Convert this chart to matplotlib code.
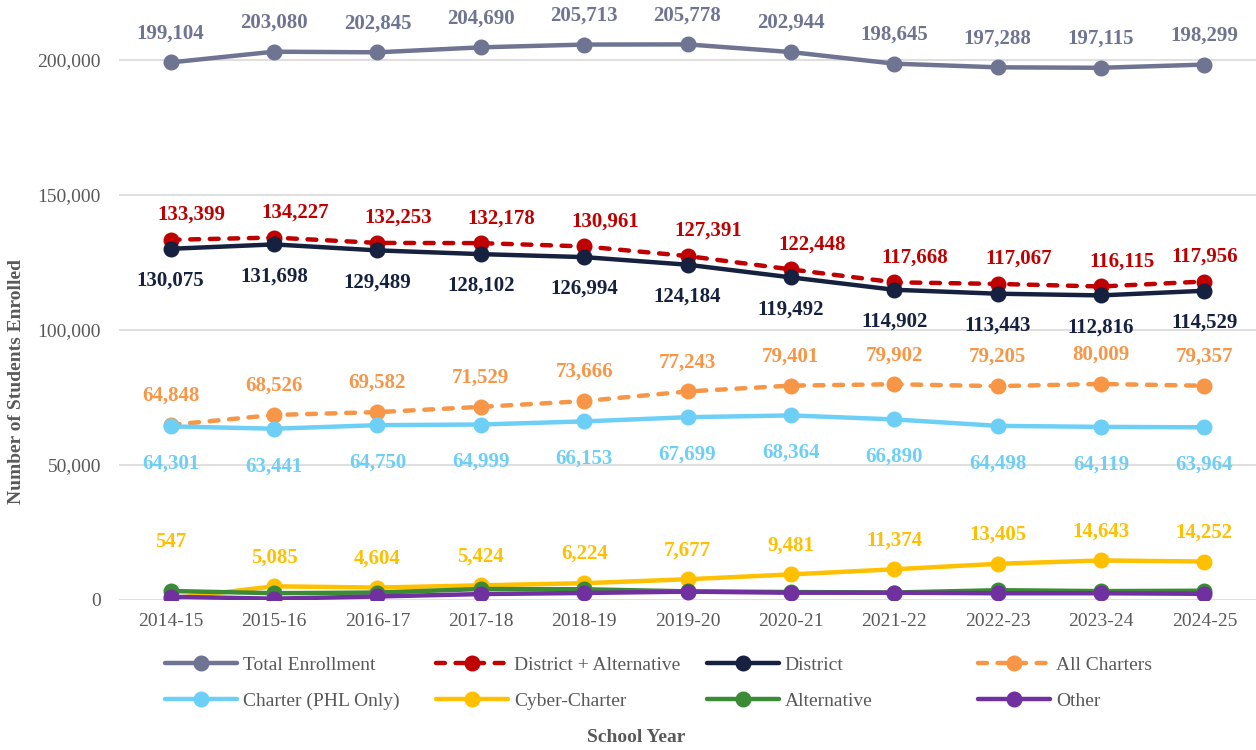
import matplotlib
matplotlib.use("Agg")
import matplotlib.pyplot as plt

years = ["2014-15", "2015-16", "2016-17", "2017-18", "2018-19", "2019-20",
         "2020-21", "2021-22", "2022-23", "2023-24", "2024-25"]

total = [199104, 203080, 202845, 204690, 205713, 205778, 202944, 198645, 197288, 197115, 198299]
district_alt = [133399, 134227, 132253, 132178, 130961, 127391, 122448, 117668, 117067, 116115, 117956]
district = [130075, 131698, 129489, 128102, 126994, 124184, 119492, 114902, 113443, 112816, 114529]
all_charters = [64848, 68526, 69582, 71529, 73666, 77243, 79401, 79902, 79205, 80009, 79357]
charter_phl = [64301, 63441, 64750, 64999, 66153, 67699, 68364, 66890, 64498, 64119, 63964]
cyber = [547, 5085, 4604, 5424, 6224, 7677, 9481, 11374, 13405, 14643, 14252]
alternative = [3324, 2529, 2764, 4076, 3967, 3207, 2956, 2766, 3624, 3299, 3427]
other = [1200, 500, 1300, 2200, 2600, 3100, 2700, 2700, 2500, 2500, 2300]

plt.rcParams['font.family'] = ['Liberation Serif', 'DejaVu Serif']

fig = plt.figure(figsize=(12.56, 7.5), dpi=100)
ax = fig.add_axes([119 / 1256, 150 / 750, 1137 / 1256, 594 / 750])

x = list(range(len(years)))

series = [
    ("Total Enrollment", total, "#6E7491", "-", "above"),
    ("District + Alternative", district_alt, "#C00000", "--", "above_r"),
    ("District", district, "#15213F", "-", "below"),
    ("All Charters", all_charters, "#F79646", "--", "above"),
    ("Charter (PHL Only)", charter_phl, "#6DCFF6", "-", "below_far"),
    ("Cyber-Charter", cyber, "#FFC000", "-", "above"),
    ("Alternative", alternative, "#3A8A36", "-", None),
    ("Other", other, "#7030A0", "-", None),
]

handles = {}
# later series sit on top, as in the original
for k, (name, vals, col, ls, lab) in enumerate(series):
    line, = ax.plot(x, vals, color=col, linewidth=3.2, marker='o', markersize=10.5,
                    label=name, solid_capstyle='round', dash_capstyle='round', zorder=3 + k * 0.1)
    if ls == "--":
        line.set_dashes((2, 2.4))
    handles[name] = line

for name, vals, col, ls, lab in series:
    if lab is None:
        continue
    for i, v in enumerate(vals):
        dx, dy = 0, 21
        if lab == "below":
            dy = -23
        if lab == "below_far":
            dy = -27
        if lab == "above_r":
            dx, dy = (15 if i < len(vals) - 1 else 0), 18
        if name == "Cyber-Charter" and i == 0:
            dy = 41
        ax.annotate(f"{v:,}", (i, v), xytext=(dx, dy), textcoords='offset points',
                    ha='center', va='center', fontsize=15, fontweight='bold', color=col,
                    zorder=10)

ax.set_xlim(-0.5, len(years) - 0.5)
ax.set_ylim(0, 220000)
ax.set_yticks([0, 50000, 100000, 150000, 200000])
ax.set_yticklabels(["0", "50,000", "100,000", "150,000", "200,000"])
ax.set_xticks(x)
ax.set_xticklabels(years)
ax.tick_params(axis='both', length=0, labelsize=14, labelcolor="#595959")
ax.tick_params(axis='y', pad=13)
ax.tick_params(axis='x', pad=9)
ax.grid(axis='y', color="#D9D9D9", linewidth=1.2)
ax.set_axisbelow(True)
for s in ax.spines.values():
    s.set_visible(False)

# legend: 4 columns, 2 rows, placed column by column
legend_cols = [
    (165, ["Total Enrollment", "Charter (PHL Only)"]),
    (436, ["District + Alternative", "Cyber-Charter"]),
    (707, ["District", "Alternative"]),
    (978, ["All Charters", "Other"]),
]
for xpix, names in legend_cols:
    leg = fig.legend([handles[n] for n in names], names, loc='center left',
                     bbox_to_anchor=(xpix / 1256, 1 - 683 / 750), frameon=False,
                     fontsize=14, handlelength=3.7, handletextpad=0.3, labelspacing=0.92,
                     borderpad=0, borderaxespad=0)
    for t in leg.get_texts():
        t.set_color("#595959")

fig.text(636 / 1256, 1 - 738 / 750, "School Year", ha='center', va='center',
         fontsize=14, fontweight='bold', color="#595959")
fig.text(17 / 1256, 1 - 382 / 750, "Number of Students Enrolled", ha='center', va='center',
         rotation=90, fontsize=14, fontweight='bold', color="#595959")

fig.savefig("out.png", dpi=100)
